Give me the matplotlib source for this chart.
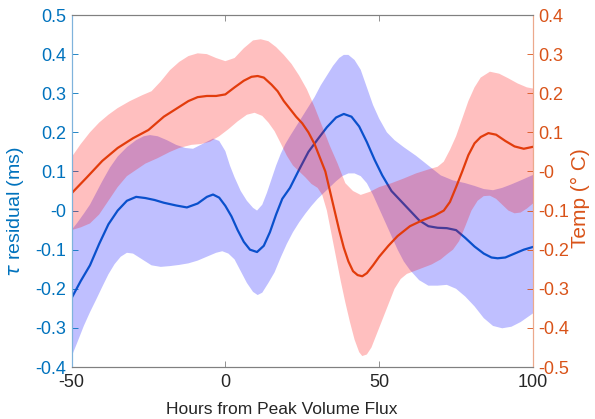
import numpy as np
import matplotlib
matplotlib.use("Agg")
import matplotlib.pyplot as plt

plt.rcParams['font.family'] = ['Liberation Sans', 'DejaVu Sans']
plt.rcParams['axes.unicode_minus'] = False
plt.rcParams['lines.solid_joinstyle'] = 'round'

# tau residual (left axis)
tau_h = [-50, -47, -44, -41, -38, -35, -32, -29, -26, -23, -20, -16, -12.5, -9, -6, -4, -2, 0, 2, 4, 6, 8,
         10.3, 12.5, 14.5, 16.5, 18.5, 21, 24, 27, 30, 33, 36, 38.5, 41, 43.5, 46, 48.5, 51, 54, 57, 60, 63,
         66, 69, 72, 75, 78, 81, 84, 86.5, 88.5, 91, 94, 97, 100]
tau = [-0.224, -0.18, -0.14, -0.085, -0.035, 0.0, 0.025, 0.035, 0.032, 0.027, 0.02, 0.013, 0.008, 0.018,
       0.035, 0.041, 0.033, 0.012, -0.015, -0.05, -0.08, -0.1, -0.106, -0.09, -0.055, -0.01, 0.03, 0.058,
       0.105, 0.15, 0.182, 0.213, 0.238, 0.247, 0.24, 0.215, 0.175, 0.13, 0.09, 0.05, 0.025, 0.0, -0.025,
       -0.04, -0.044, -0.045, -0.05, -0.07, -0.092, -0.11, -0.12, -0.122, -0.12, -0.11, -0.1, -0.093]

tau_up_h = [-50, -48, -46, -44, -42, -40, -37.5, -35, -32, -29, -26.5, -24.5, -22, -19, -16, -13, -10.5, -7,
            -4, -2, 0, 1.5, 3, 5, 7, 9, 10.3, 12, 13.5, 15, 16.5, 18, 19.5, 21, 23, 25, 27, 29, 31, 33, 35,
            37, 38.5, 40, 42, 44, 46, 48, 50, 52.5, 55, 58, 62, 66, 70, 74, 78, 81, 84, 87, 90, 93, 96, 100]
tau_up = [-0.05, -0.03, -0.008, 0.015, 0.045, 0.075, 0.11, 0.138, 0.162, 0.18, 0.19, 0.193, 0.19, 0.18,
          0.168, 0.16, 0.158, 0.172, 0.184, 0.178, 0.152, 0.115, 0.085, 0.05, 0.025, 0.007, 0.0, 0.015,
          0.045, 0.08, 0.115, 0.145, 0.17, 0.19, 0.215, 0.24, 0.265, 0.29, 0.32, 0.345, 0.37, 0.39, 0.398,
          0.398, 0.385, 0.36, 0.315, 0.27, 0.235, 0.2, 0.18, 0.162, 0.14, 0.115, 0.09, 0.077, 0.07, 0.063,
          0.055, 0.052, 0.058, 0.067, 0.077, 0.091]

tau_lo_h = [-50, -48, -46, -44, -42, -40, -38, -36, -34, -32, -30, -27, -24, -21, -18, -15, -12, -9, -6, -3,
            -1, 1, 3, 5, 7, 9, 10.5, 12, 14, 16, 18, 20, 22, 24, 26, 28, 30, 32, 34, 36, 38, 40, 42, 44, 46,
            48, 50, 52, 54, 56, 58, 60, 63, 66, 69, 72, 75, 78, 81, 84, 87, 90, 93, 96, 100]
tau_lo = [-0.374, -0.335, -0.295, -0.26, -0.228, -0.195, -0.163, -0.137, -0.118, -0.108, -0.11, -0.125,
          -0.14, -0.144, -0.142, -0.139, -0.135, -0.128, -0.118, -0.108, -0.104, -0.11, -0.125, -0.155,
          -0.185, -0.208, -0.216, -0.21, -0.185, -0.158, -0.12, -0.085, -0.055, -0.03, -0.008, 0.012, 0.03,
          0.045, 0.06, 0.075, 0.088, 0.095, 0.095, 0.088, 0.07, 0.04, 0.005, -0.03, -0.065, -0.1, -0.13,
          -0.152, -0.178, -0.192, -0.192, -0.19, -0.2, -0.22, -0.245, -0.275, -0.295, -0.301, -0.297,
          -0.285, -0.263]

# temperature (right axis)
temp_h = [-50, -45, -40, -35, -30, -25, -20, -15, -12, -9, -6, -3, 0, 3, 6, 8.5, 10.5, 12.5, 15, 17, 19, 21,
          23, 25, 27, 29, 31, 32.5, 34, 35.5, 37, 38.5, 40, 41.5, 43, 44.5, 46, 48, 50, 53, 56, 60, 64, 68,
          71, 73, 75, 77, 79, 81, 83, 85.5, 88, 91, 94, 97, 100]
temp = [-0.056, -0.015, 0.027, 0.06, 0.085, 0.106, 0.14, 0.165, 0.18, 0.19, 0.193, 0.193, 0.197, 0.215,
        0.232, 0.242, 0.244, 0.24, 0.222, 0.205, 0.18, 0.16, 0.14, 0.123, 0.1, 0.07, 0.03, 0.0, -0.05, -0.1,
        -0.15, -0.195, -0.23, -0.255, -0.265, -0.268, -0.26, -0.24, -0.218, -0.19, -0.165, -0.14, -0.125,
        -0.113, -0.1, -0.078, -0.04, 0.0, 0.042, 0.072, 0.088, 0.098, 0.094, 0.078, 0.064, 0.058, 0.063]

temp_up_h = [-50, -47, -44, -41, -38, -35, -31, -27, -24, -21, -18, -15, -12, -9, -6, -3, 0, 3, 6, 9, 11.5,
             14, 16.5, 19, 21.5, 24, 26.5, 29, 31.5, 34, 36.5, 39, 41.5, 44, 47, 50, 54, 58, 62, 66, 69, 71,
             73, 75, 77, 79, 81, 83, 86, 89, 92, 95, 98, 100]
temp_up = [0.036, 0.07, 0.1, 0.125, 0.145, 0.162, 0.18, 0.195, 0.205, 0.23, 0.259, 0.28, 0.295, 0.302,
           0.3, 0.29, 0.282, 0.29, 0.315, 0.335, 0.338, 0.333, 0.318, 0.298, 0.275, 0.245, 0.21, 0.165,
           0.115, 0.065, 0.02, -0.03, -0.05, -0.06, -0.052, -0.04, -0.03, -0.018, -0.005, 0.005, 0.012,
           0.025, 0.055, 0.09, 0.135, 0.18, 0.215, 0.24, 0.255, 0.25, 0.238, 0.225, 0.215, 0.212]

temp_lo_h = [-50, -47, -44, -41, -38, -35, -32, -29, -26, -22, -18, -15, -11, -8, -5, -2, 1, 4, 7, 9.5, 12,
             14, 16, 18, 20, 22, 24, 26, 28, 30, 31.5, 33, 34.5, 36, 37.5, 39, 40.5, 42, 43.5, 44.5, 46,
             47.5, 49, 51, 53, 55, 57, 59, 61, 64, 67, 70, 72, 74, 76, 78, 80, 82, 84, 86, 88, 90, 92, 94,
             96, 98, 100]
temp_lo = [-0.15, -0.143, -0.133, -0.11, -0.075, -0.04, -0.012, 0.004, 0.02, 0.034, 0.05, 0.06, 0.068,
           0.07, 0.076, 0.09, 0.108, 0.128, 0.145, 0.15, 0.142, 0.125, 0.103, 0.072, 0.04, 0.015, 0.0,
           -0.015, -0.032, -0.042, -0.06, -0.1, -0.16, -0.22, -0.28, -0.335, -0.385, -0.43, -0.462, -0.472,
           -0.468, -0.45, -0.42, -0.38, -0.34, -0.3, -0.275, -0.262, -0.256, -0.247, -0.238, -0.225, -0.212,
           -0.2, -0.178, -0.14, -0.1, -0.075, -0.063, -0.062, -0.07, -0.085, -0.1, -0.107, -0.105, -0.095,
           -0.082]

left_col = '#0072BD'
right_col = '#D95319'

fig = plt.figure(figsize=(5.95, 4.19), dpi=100)
ax = fig.add_axes([0.1202, 0.1241, 0.7756, 0.8401])
ax2 = ax.twinx()

ax.fill(tau_up_h + tau_lo_h[::-1], tau_up + tau_lo[::-1], color='blue', alpha=0.25, lw=0)
ax.plot(tau_h, tau, color='#0A50CC', lw=1.6)

ax2.fill(temp_up_h + temp_lo_h[::-1], temp_up + temp_lo[::-1], color='red', alpha=0.25, lw=0)
ax2.plot(temp_h, temp, color='#E23C0C', lw=1.6)

ax.set_xlim(-50, 100)
ax.set_ylim(-0.4, 0.5)
ax2.set_ylim(-0.5, 0.4)
ax.set_xticks([-50, 0, 50, 100])
ax.set_yticks(np.round(np.arange(-0.4, 0.51, 0.1), 1))
ax2.set_yticks(np.round(np.arange(-0.5, 0.41, 0.1), 1))
fmt = matplotlib.ticker.FormatStrFormatter('%g')
ax.yaxis.set_major_formatter(fmt)
ax2.yaxis.set_major_formatter(fmt)

fs = 13
ax.tick_params(axis='x', direction='in', top=True, length=4, width=0.6, color='#808080',
               labelsize=fs, labelcolor='#262626', pad=5)
ax.tick_params(axis='y', direction='in', right=False, length=4, width=0.6, color=left_col,
               labelsize=fs, labelcolor=left_col, pad=4)
ax2.tick_params(axis='y', direction='in', length=4, width=0.6, color=right_col,
                labelsize=fs, labelcolor=right_col, pad=4)

for a in (ax, ax2):
    a.spines['top'].set_color('#808080')
    a.spines['bottom'].set_color('#808080')
    a.spines['left'].set_color('#7FB3DC')
    a.spines['right'].set_color('#ECA98C')
    for s in a.spines.values():
        s.set_linewidth(0.8)

ax.set_xlabel('Hours from Peak Volume Flux', fontsize=12.5, color='#262626')
ax.xaxis.set_label_coords(0.456, -0.1)
ax.set_ylabel(r'$\tau$ residual (ms)', fontsize=14, color=left_col)
ax.yaxis.set_label_coords(-0.098, 0.44)
ax2.set_ylabel('Temp (\u00b0 C)', fontsize=15, color=right_col, rotation=90)
ax2.yaxis.set_label_coords(1.082, 0.48)

fig.savefig('out.png', dpi=100)
